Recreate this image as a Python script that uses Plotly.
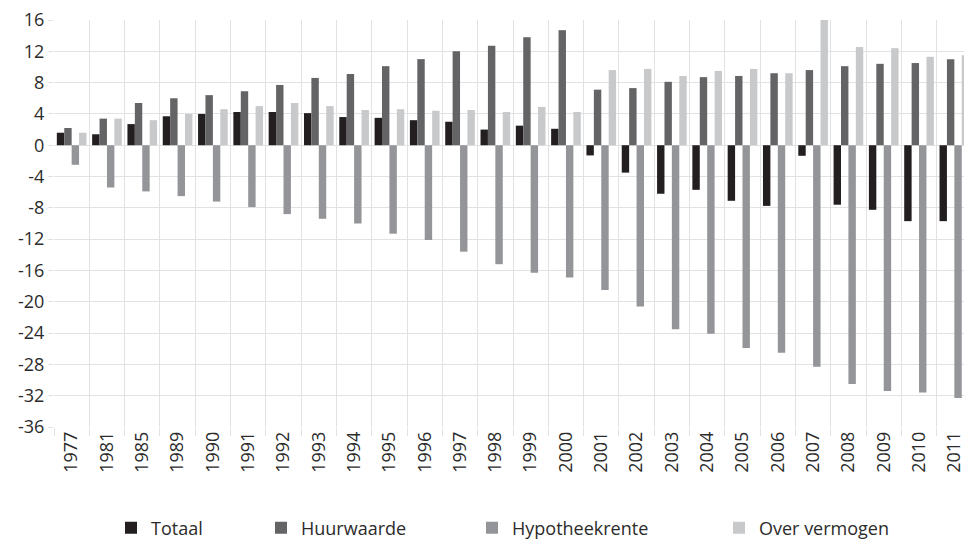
import plotly.graph_objects as go

years = ["1977", "1981", "1985", "1989", "1990", "1991", "1992", "1993", "1994", "1995",
         "1996", "1997", "1998", "1999", "2000", "2001", "2002", "2003", "2004", "2005",
         "2006", "2007", "2008", "2009", "2010", "2011"]

totaal = [1.6, 1.4, 2.7, 3.7, 4.0, 4.25, 4.25, 4.1, 3.6, 3.5,
          3.2, 3.0, 2.0, 2.5, 2.1, -1.3, -3.5, -6.2, -5.7, -7.1,
          -7.75, -1.35, -7.6, -8.25, -9.7, -9.7]
huurwaarde = [2.2, 3.4, 5.4, 6.0, 6.4, 6.9, 7.7, 8.6, 9.1, 10.1,
              11.0, 12.0, 12.7, 13.8, 14.7, 7.1, 7.3, 8.1, 8.7, 8.85,
              9.2, 9.6, 10.1, 10.4, 10.5, 11.0]
hypotheekrente = [-2.5, -5.4, -5.9, -6.5, -7.2, -7.9, -8.8, -9.4, -10.0, -11.3,
                  -12.1, -13.6, -15.2, -16.3, -16.9, -18.5, -20.6, -23.5, -24.1, -25.9,
                  -26.5, -28.3, -30.5, -31.4, -31.6, -32.3]
over_vermogen = [1.6, 3.4, 3.2, 4.0, 4.6, 5.0, 5.4, 5.0, 4.5, 4.6,
                 4.4, 4.5, 4.25, 4.9, 4.25, 9.6, 9.75, 8.85, 9.5, 9.75,
                 9.2, 16.0, 12.55, 12.4, 11.3, 11.5]

y_ticks = list(range(-36, 17, 4))

# (name, values, colour, legend id, legend left edge in figure px)
series = [
    ("Totaal", totaal, "#231f20", "legend", 103),
    ("Huurwaarde", huurwaarde, "#646466", "legend2", 253),
    ("Hypotheekrente", hypotheekrente, "#939598", "legend3", 464),
    ("Over vermogen", over_vermogen, "#c8c9cb", "legend4", 711),
]

W, H = 964, 531  # page body has an 8px margin
font_family = "Open Sans, Lato, sans-serif"
text_color = "#2b2b2b"

fig = go.Figure()
for name, vals, color, leg, _ in series:
    fig.add_trace(go.Bar(x=years, y=vals, name=name, marker_color=color,
                         marker_line_width=0, legend=leg))

layout_legends = {}
for name, vals, color, leg, px in series:
    layout_legends[leg] = dict(
        xref="container", yref="container",
        x=px / W, y=1 - 520 / H,
        xanchor="left", yanchor="middle",
        orientation="h", bgcolor="rgba(0,0,0,0)",
        font=dict(size=18, color=text_color, family=font_family),
    )

fig.update_layout(
    width=W, height=H,
    margin=dict(l=46, r=0, t=12, b=112),
    paper_bgcolor="white", plot_bgcolor="white",
    barmode="group", bargap=0.16, bargroupgap=0,
    showlegend=True,
    font=dict(family=font_family, color=text_color),
    **layout_legends,
)

fig.update_xaxes(
    type="category", tickson="boundaries", automargin=False,
    showgrid=True, gridcolor="#e2e2e2", gridwidth=1.3,
    ticks="outside", ticklen=8, tickcolor="#e2e2e2", tickwidth=1.3,
    tickangle=-90, tickfont=dict(size=18, color=text_color),
    ticklabeloverflow="allow",
    showline=False, zeroline=False,
)
fig.update_yaxes(
    range=[-36, 16], tickvals=y_ticks, ticktext=[str(v) for v in y_ticks],
    automargin=False, ticklabeloverflow="allow",
    showgrid=True, gridcolor="#e2e2e2", gridwidth=1.3,
    zeroline=True, zerolinecolor="#e2e2e2", zerolinewidth=1.3,
    ticks="outside", ticklen=5, tickcolor="#e2e2e2", tickwidth=1.3,
    tickfont=dict(size=18, color=text_color),
    showline=False,
)

fig.write_html("out.html")
